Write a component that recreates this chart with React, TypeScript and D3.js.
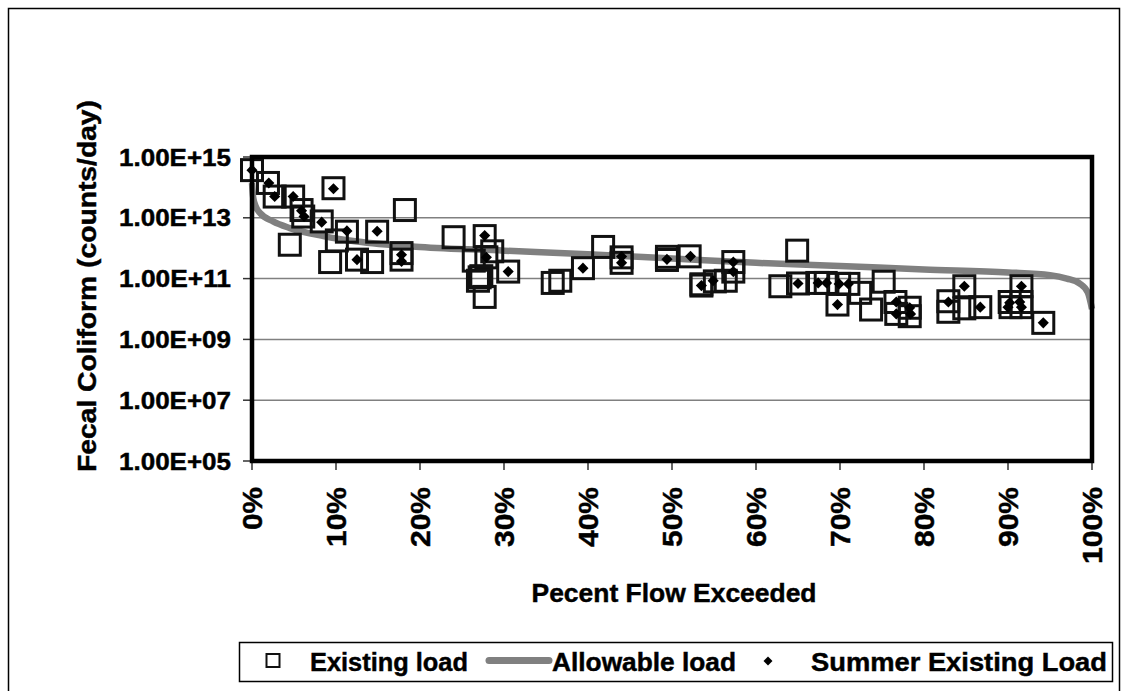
import React from "react";
import * as d3 from "d3";

// ---- data ----
const xTickValues = [0, 10, 20, 30, 40, 50, 60, 70, 80, 90, 100];
const xTickLabels = ["0%", "10%", "20%", "30%", "40%", "50%", "60%", "70%", "80%", "90%", "100%"];
const yTickValues = [1e5, 1e7, 1e9, 1e11, 1e13, 1e15];
const yTickLabels = ["1.00E+05", "1.00E+07", "1.00E+09", "1.00E+11", "1.00E+13", "1.00E+15"];
const yGridValues = [1e7, 1e9, 1e11, 1e13];

const existingPct = [
  0.0, 1.9, 2.7, 4.9, 5.9, 6.1, 8.3, 9.7, 4.5, 10.1, 11.3, 9.3, 12.5, 14.3, 14.9, 18.2, 17.8, 17.8,
  24.0, 27.7, 28.6, 27.9, 26.4, 27.1, 27.3, 26.9, 27.7, 30.5, 35.8, 36.7, 39.4, 41.8, 44.0, 44.0,
  49.4, 49.4, 52.1, 53.5, 53.5, 55.1, 56.4, 57.3, 57.3, 62.9, 64.9, 65.0, 67.3, 68.3, 69.9, 71.0,
  69.7, 72.4, 73.7, 75.2, 76.6, 76.7, 78.3, 78.3, 82.9, 82.9, 84.8, 84.8, 86.7, 90.2, 90.3, 91.6,
  91.6, 91.6, 94.2,
];
const existingLoad = [
  3.7e14, 1.4e14, 5.0e13, 5.0e13, 1.8e13, 1.1e13, 7.6e12, 9.4e13, 1.3e12, 1.8e12, 3.5e12, 3.5e11, 4.2e11, 3.5e11, 3.5e12, 1.8e13, 6.9e11, 4.2e11,
  2.3e12, 2.5e12, 7.9e11, 5.0e11, 3.9e11, 1.1e11, 1.2e11, 8.5e10, 2.5e10, 1.7e11, 7.2e10, 8.5e10, 2.2e11, 1.1e12, 5.0e11, 3.3e11,
  4.1e11, 5.2e11, 5.4e11, 5.9e10, 6.5e10, 8.1e10, 8.5e10, 3.5e11, 1.7e11, 5.6e10, 8.3e11, 6.9e10, 7.2e10, 7.2e10, 6.7e10, 6.7e10,
  1.4e10, 3.4e10, 9.6e9, 7.9e10, 1.7e10, 6.9e9, 1.1e10, 5.8e9, 1.8e10, 8.1e9, 5.6e10, 1.05e10, 1.15e10, 1.7e10, 1.15e10, 5.6e10,
  1.7e10, 1.15e10, 3.5e9,
];

const summerPct = [
  0.0, 2.0, 2.7, 4.9, 5.9, 6.2, 8.3, 9.7, 11.3, 12.5, 14.9, 17.8, 17.8, 27.7, 27.9, 30.5, 39.4, 44.0,
  44.0, 49.4, 52.2, 53.5, 54.9, 57.3, 57.3, 65.0, 67.4, 68.4, 69.9, 71.0, 69.7, 76.7, 76.7, 78.3,
  78.4, 82.9, 84.8, 86.7, 90.2, 91.6, 91.4, 91.6, 90.0, 94.2,
];
const summerLoad = [
  3.7e14, 1.4e14, 5.0e13, 5.0e13, 1.7e13, 1.1e13, 7.2e12, 9.0e13, 3.7e12, 4.2e11, 3.6e12, 6.1e11, 3.7e11, 2.6e12, 5.0e11, 1.7e11, 2.2e11, 5.3e11,
  3.3e11, 4.3e11, 5.4e11, 5.9e10, 8.5e10, 3.5e11, 1.7e11, 6.9e10, 7.2e10, 7.2e10, 6.7e10, 6.7e10, 1.4e10, 1.7e10, 6.9e9, 1.1e10,
  6.9e9, 1.7e10, 5.6e10, 1.15e10, 1.6e10, 5.6e10, 1.7e10, 1.15e10, 1.15e10, 3.5e9,
];

const allowPct = [0, 0.15, 0.5, 1, 2.5, 4.5, 8.5, 12.5, 20, 30, 40, 50, 60, 70, 80, 90, 95, 97, 98.5, 99.5, 100];
const allowLoad = [
  1.4e14, 4.5e13, 2.2e13, 1.4e13, 7.6e12, 4.6e12, 2.5e12, 1.65e12, 1.1e12, 8.3e11, 6.3e11, 4.6e11,
  3.3e11, 2.6e11, 2.0e11, 1.6e11, 1.3e11, 1.0e11, 7.0e10, 3.5e10, 1.0e10,
];

const FONT = "'Liberation Sans', Arial, Helvetica, sans-serif";

export default function App() {
  const left = 252, right = 1092, top = 157, bottom = 461;
  const x = d3.scaleLinear().domain([0, 100]).range([left, right]);
  const y = d3.scaleLog().domain([1e5, 1e15]).range([bottom, top]);

  const allowData = allowPct.map((p, i) => ({ p, v: allowLoad[i] }));
  const line = d3
    .line<{ p: number; v: number }>()
    .x((d) => x(d.p))
    .y((d) => y(d.v))
    .curve(d3.curveMonotoneX);

  const sq = 21;
  const diamondPath = d3.symbol(d3.symbolSquare, 62)() as string;
  const legendDiamond = d3.symbol(d3.symbolSquare, 40)() as string;

  const xLabelLen = (s: string) => (s.length === 2 ? 43 : s.length === 3 ? 60 : 77);
  const heavy = { stroke: "#000", strokeWidth: 0.45 };

  return (
    <svg
      width={1128}
      height={691}
      style={{ position: "absolute", left: 0, top: 0, background: "#fff" }}
      fontFamily={FONT}
    >
      <rect x={0} y={0} width={1128} height={691} fill="#fff" />
      {/* outer chart border */}
      <path d="M8.5,700 L8.5,8.5 L1119.5,8.5 L1119.5,700" fill="none" stroke="#000" strokeWidth={1.5} />

      {/* grid */}
      {yGridValues.map((v) => (
        <line key={v} x1={left} x2={right} y1={y(v)} y2={y(v)} stroke="#808080" strokeWidth={1.5} />
      ))}

      {/* y ticks */}
      {yTickValues.map((v, i) => (
        <g key={v}>
          <line x1={left - 9} x2={left} y1={y(v)} y2={y(v)} stroke="#333" strokeWidth={1.5} />
          <text
            x={231}
            y={y(v) + 8.5}
            textAnchor="end"
            fontSize={24}
            fontWeight="bold"
            textLength={112}
            lengthAdjust="spacingAndGlyphs"
            {...heavy}
          >
            {yTickLabels[i]}
          </text>
        </g>
      ))}

      {/* x ticks */}
      {xTickValues.map((v, i) => (
        <g key={v}>
          <line x1={x(v)} x2={x(v)} y1={bottom} y2={bottom + 9} stroke="#333" strokeWidth={1.5} />
          <text
            transform={`translate(${x(v) + 10},487) rotate(-90)`}
            textAnchor="end"
            fontSize={28}
            fontWeight="bold"
            textLength={xLabelLen(xTickLabels[i])}
            lengthAdjust="spacingAndGlyphs"
            {...heavy}
          >
            {xTickLabels[i]}
          </text>
        </g>
      ))}

      {/* allowable load curve */}
      <path d={line(allowData) as string} fill="none" stroke="#808080" strokeWidth={6.5} />

      {/* existing load squares */}
      {existingPct.map((p, i) => (
        <rect
          key={"s" + i}
          x={x(p) - sq / 2}
          y={y(existingLoad[i]) - sq / 2}
          width={sq}
          height={sq}
          fill="none"
          stroke="#111"
          strokeWidth={3}
        />
      ))}

      {/* summer diamonds */}
      {summerPct.map((p, i) => (
        <path
          key={"d" + i}
          d={diamondPath}
          transform={`translate(${x(p)},${y(summerLoad[i])}) rotate(45)`}
          fill="#000"
        />
      ))}

      {/* plot frame */}
      <rect x={left} y={top} width={right - left} height={bottom - top} fill="none" stroke="#000" strokeWidth={4.5} />

      {/* axis titles */}
      <text
        transform="translate(96,286) rotate(-90)"
        textAnchor="middle"
        fontSize={26}
        fontWeight="bold"
        textLength={372}
        lengthAdjust="spacingAndGlyphs"
        {...heavy}
      >
        Fecal Coliform (counts/day)
      </text>
      <text
        x={674}
        y={602}
        textAnchor="middle"
        fontSize={26}
        fontWeight="bold"
        textLength={285}
        lengthAdjust="spacingAndGlyphs"
        {...heavy}
      >
        Pecent Flow Exceeded
      </text>

      {/* legend */}
      <rect x={239.5} y={642.5} width={873} height={39} fill="#fff" stroke="#000" strokeWidth={1.5} />
      <rect x={266.5} y={654} width={13} height={13} fill="none" stroke="#111" strokeWidth={2} />
      <text x={310} y={671} fontSize={26} fontWeight="bold" textLength={158} lengthAdjust="spacingAndGlyphs" {...heavy}>
        Existing load
      </text>
      <line x1={489} x2={549} y1={660.5} y2={660.5} stroke="#808080" strokeWidth={7} strokeLinecap="round" />
      <text x={552} y={671} fontSize={26} fontWeight="bold" textLength={184} lengthAdjust="spacingAndGlyphs" {...heavy}>
        Allowable load
      </text>
      <path d={legendDiamond} transform="translate(768,661) rotate(45)" fill="#000" />
      <text x={811} y={671} fontSize={26} fontWeight="bold" textLength={296} lengthAdjust="spacingAndGlyphs" {...heavy}>
        Summer Existing Load
      </text>
    </svg>
  );
}
